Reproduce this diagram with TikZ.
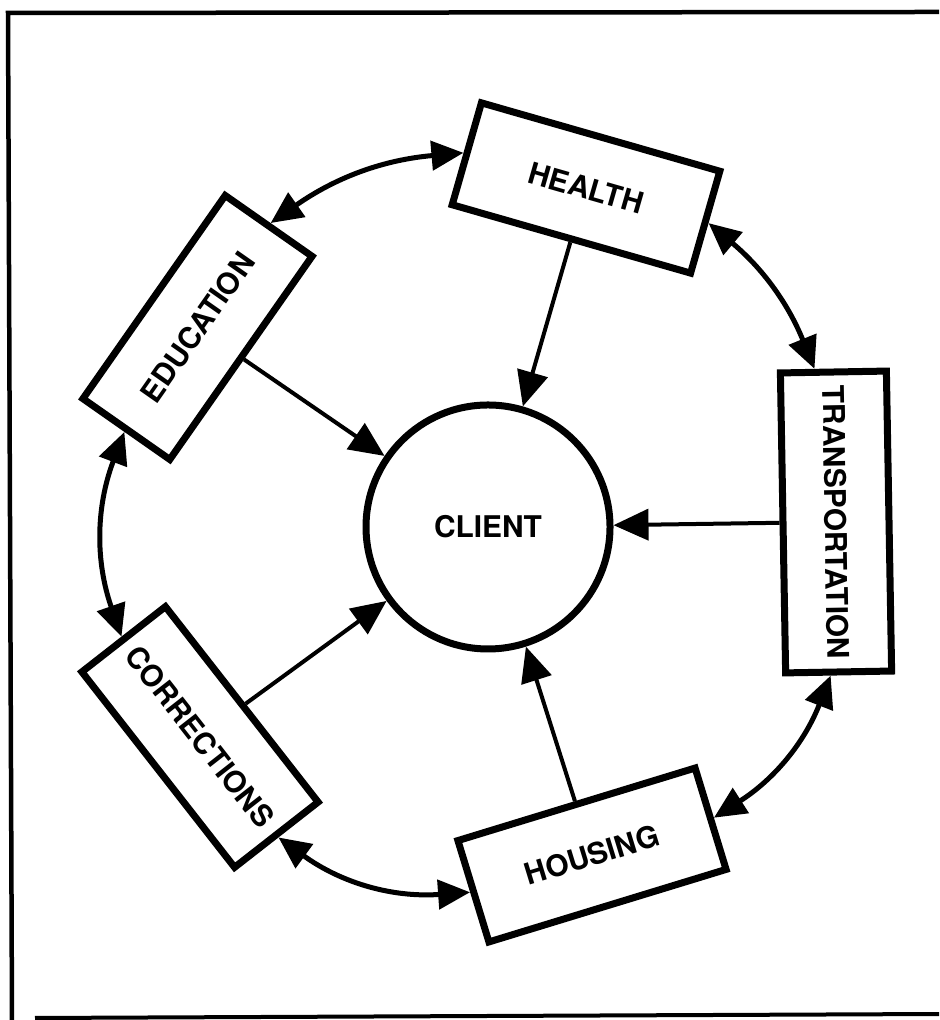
\documentclass[tikz,border=0pt]{standalone}
\usepackage{fontspec}
\setsansfont{TeX Gyre Heros}
\usepackage{tikz}
\usetikzlibrary{arrows.meta}

\newcommand{\lbl}{\fontsize{8.5}{10}\selectfont\sffamily\bfseries}

\begin{document}
\begin{tikzpicture}[
        agency/.style={draw, line width=0.7mm, inner sep=0pt,
            minimum width=24.8mm, minimum height=10.6mm, font=\lbl},
        spoke/.style={-{Triangle[length=3.5mm, width=3.1mm]}, line width=0.4mm},
        ring/.style={{Triangle[length=3.2mm, width=2.9mm]}-{Triangle[length=3.2mm, width=2.9mm]},
            line width=0.5mm}]

        \useasboundingbox (0,0) rectangle (9.39,10.20);

        %% ── Cadre ──────────────────────────────────────────────────────────
        \draw[line width=0.45mm] (9.39,10.08) -- (0.08,10.07) -- (0.12,0);
        \draw[line width=0.4mm] (0.35,0.02) -- (9.39,0.06);

        %% ── Client au centre ───────────────────────────────────────────────
        \node[draw, circle, line width=0.7mm, minimum size=24.4mm,
            inner sep=0pt, font=\lbl] (client) at (4.88,4.93) {CLIENT};

        %% ── Services autour ────────────────────────────────────────────────
        \node[agency, rotate=-16] (health) at (5.86,8.32) {HEALTH};
        \node[agency, rotate=-89, minimum width=30mm]
            (trans) at (8.36,4.98) {TRANSPORTATION};
        \node[agency, rotate=17] (housing) at (5.92,1.65) {HOUSING};
        \node[agency, rotate=-52] (corr) at (2.00,2.83) {CORRECTIONS};
        \node[agency, rotate=55] (edu) at (1.975,6.925) {EDUCATION};

        %% ── Liens vers le client ───────────────────────────────────────────
        \draw[spoke] (health) -- (client);
        \draw[spoke] (trans) -- (client);
        \draw[spoke] (housing) -- (client);
        \draw[spoke] (corr) -- (client);
        \draw[spoke] (edu) -- (client);

        %% ── Liens entre services ───────────────────────────────────────────
        \draw[ring] (edu.east) to[bend left=15] (health.west);
        \draw[ring] (health.east) to[bend left=14] (trans.187);
        \draw[ring] (trans.-3) to[bend left=18] (housing.east);
        \draw[ring] (housing.west) to[bend left=20] (corr.east);
        \draw[ring] (corr.west) to[bend left=20] (edu.west);

\end{tikzpicture}
\end{document}
